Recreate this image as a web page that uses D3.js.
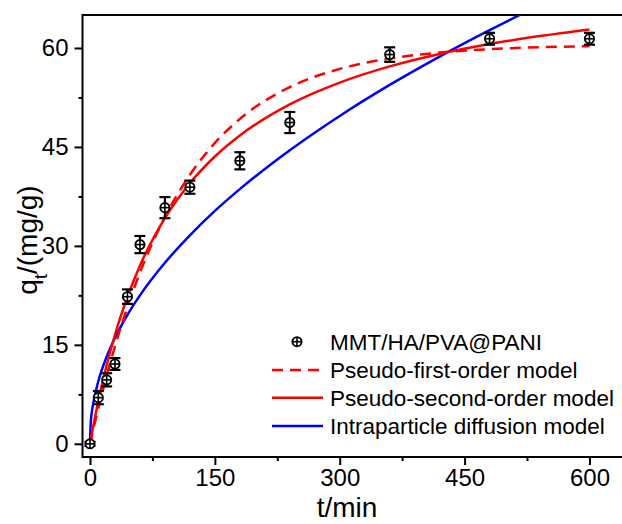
<!DOCTYPE html>
<html>
<head>
<meta charset="utf-8">
<script src="https://cdn.jsdelivr.net/npm/d3@7/dist/d3.min.js"></script>
<style>
  html, body { margin: 0; padding: 0; background: #fff; }
  svg { display: block; font-family: Arial, "Liberation Sans", sans-serif; }
</style>
</head>
<body>
<svg id="chart" width="622" height="524"></svg>
<script>
// Adsorption kinetics of MMT/HA/PVA@PANI: measured uptake with error bars
const times = [0, 10, 20, 30, 45, 60, 90, 120, 180, 240, 360, 480, 600];
const qt = [0, 7.0, 9.7, 12.1, 22.3, 30.2, 35.8, 38.9, 42.9, 48.7, 59.0, 61.4, 61.4];
const qtErr = [0.3, 1.0, 1.0, 0.9, 1.1, 1.3, 1.6, 1.0, 1.3, 1.6, 1.1, 0.9, 0.9];

// Fitted model curves, sampled along t
const curveT = [0, 5, 10, 20, 30, 45, 60, 90, 120, 150, 180, 240, 300, 360, 420, 480, 540, 600];
const pfoQ = [0, 2.76, 5.39, 10.31, 14.78, 20.75, 25.95, 34.39, 40.76, 45.6, 49.24, 54.07, 56.83, 58.4, 59.3, 59.82, 60.11, 60.28];
const psoQ = [0, 3.39, 6.48, 11.9, 16.53, 22.29, 27.0, 34.2, 39.5, 43.55, 46.74, 51.45, 54.75, 57.21, 59.1, 60.6, 61.8, 62.82];
const ipdT = [0, 1, 3, 5, 10, 20, 30, 45, 60, 90, 120, 150, 180, 240, 300, 360, 420, 480, 540];
const ipdQ = [0.5, 3.34, 5.42, 6.85, 9.48, 13.2, 16.06, 19.55, 22.5, 27.44, 31.6, 35.3, 38.6, 44.5, 49.7, 54.4, 58.7, 62.7, 66.5];

const xMajor = [0, 150, 300, 450, 600];
const xMinor = [75, 225, 375, 525];
const yMajor = [0, 15, 30, 45, 60];
const yMinor = [7.5, 22.5, 37.5, 52.5];

const legendLabels = ["MMT/HA/PVA@PANI", "Pseudo-first-order model", "Pseudo-second-order model", "Intraparticle diffusion model"];

const svg = d3.select("#chart");
const plotL = 82.5, plotT = 15, plotB = 457, plotR = 639.4;

const x = d3.scaleLinear().domain([-9, 660]).range([plotL, plotR]);
const y = d3.scaleLinear().domain([-2, 65]).range([plotB, plotT]);

svg.append("defs").append("clipPath").attr("id", "plotClip")
  .append("rect").attr("x", plotL).attr("y", plotT).attr("width", plotR - plotL).attr("height", plotB - plotT);

// Axes: major ticks with labels, minor ticks without
const fmt = d3.format("d");
function styleAxis(g) {
  g.select(".domain").remove();
  g.selectAll(".tick line").attr("stroke", "#000").attr("stroke-width", 2);
  g.selectAll(".tick text").attr("fill", "#000").style("font-size", "24px");
}
svg.append("g").attr("transform", `translate(0,${plotB})`)
  .call(d3.axisBottom(x).tickValues(xMajor).tickFormat(fmt).tickSize(8).tickPadding(4))
  .call(styleAxis);
svg.append("g").attr("transform", `translate(0,${plotB})`)
  .call(d3.axisBottom(x).tickValues(xMinor).tickFormat("").tickSize(4))
  .call(styleAxis);
svg.append("g").attr("transform", `translate(${plotL},0)`)
  .call(d3.axisLeft(y).tickValues(yMajor).tickFormat(fmt).tickSize(8).tickPadding(6))
  .call(styleAxis);
svg.append("g").attr("transform", `translate(${plotL},0)`)
  .call(d3.axisLeft(y).tickValues(yMinor).tickFormat("").tickSize(4))
  .call(styleAxis);

// Frame
svg.append("rect").attr("x", plotL).attr("y", plotT).attr("width", plotR - plotL).attr("height", plotB - plotT)
  .attr("fill", "none").attr("stroke", "#000").attr("stroke-width", 2);

// Model curves
const plot = svg.append("g").attr("clip-path", "url(#plotClip)");
const line = d3.line().x(d => x(d[0])).y(d => y(d[1])).curve(d3.curveMonotoneX);
plot.append("path").datum(ipdT.map((t, i) => [t, ipdQ[i]]))
  .attr("d", line).attr("fill", "none").attr("stroke", "#0000ff").attr("stroke-width", 2.5);
plot.append("path").datum(psoQ.map((q, i) => [curveT[i], q]))
  .attr("d", line).attr("fill", "none").attr("stroke", "#ff0000").attr("stroke-width", 2.5);
plot.append("path").datum(pfoQ.map((q, i) => [curveT[i], q]))
  .attr("d", line).attr("fill", "none").attr("stroke", "#ff0000").attr("stroke-width", 2.5)
  .attr("stroke-dasharray", "11,7");

// Data points: error bars plus circle-cross markers
function marker(g, cx, cy, r) {
  g.append("circle").attr("cx", cx).attr("cy", cy).attr("r", r)
    .attr("fill", "#fff").attr("stroke", "#000").attr("stroke-width", 1.9);
  g.append("line").attr("x1", cx - r).attr("x2", cx + r).attr("y1", cy).attr("y2", cy)
    .attr("stroke", "#000").attr("stroke-width", 1.6);
  g.append("line").attr("x1", cx).attr("x2", cx).attr("y1", cy - r).attr("y2", cy + r)
    .attr("stroke", "#000").attr("stroke-width", 1.6);
}
const pts = svg.append("g");
times.forEach((t, i) => {
  const cx = x(t), lo = y(qt[i] - qtErr[i]), hi = y(qt[i] + qtErr[i]);
  const g = pts.append("g");
  g.append("line").attr("x1", cx).attr("x2", cx).attr("y1", lo).attr("y2", hi)
    .attr("stroke", "#000").attr("stroke-width", 2.2);
  [lo, hi].forEach(v => g.append("line").attr("x1", cx - 5.5).attr("x2", cx + 5.5)
    .attr("y1", v).attr("y2", v).attr("stroke", "#000").attr("stroke-width", 2.2));
  marker(g, cx, y(qt[i]), 4.6);
});

// Axis titles
svg.append("text").attr("x", 347).attr("y", 517).attr("text-anchor", "middle")
  .style("font-size", "28px").attr("fill", "#000").text("t/min");
const yt = svg.append("text").attr("transform", "translate(37,240) rotate(-90)")
  .attr("text-anchor", "middle").style("font-size", "28px").attr("fill", "#000");
yt.append("tspan").text("q");
yt.append("tspan").attr("baseline-shift", "sub").style("font-size", "18px").text("t");
yt.append("tspan").text("/(mg/g)");

// Legend
const legendY = [341.7, 370, 397.7, 426];
const lg = svg.append("g");
marker(lg, 297, legendY[0], 4.6);
const legendStyles = [null, { c: "#ff0000", dash: "11,7" }, { c: "#ff0000", dash: null }, { c: "#0000ff", dash: null }];
legendStyles.forEach((s, i) => {
  if (!s) return;
  lg.append("line").attr("x1", 272).attr("x2", 323).attr("y1", legendY[i]).attr("y2", legendY[i])
    .attr("stroke", s.c).attr("stroke-width", 2.5).attr("stroke-dasharray", s.dash);
});
legendLabels.forEach((lab, i) => {
  lg.append("text").attr("x", 330).attr("y", legendY[i] + 8).style("font-size", "22.5px")
    .attr("fill", "#000").text(lab);
});
</script>
</body>
</html>
